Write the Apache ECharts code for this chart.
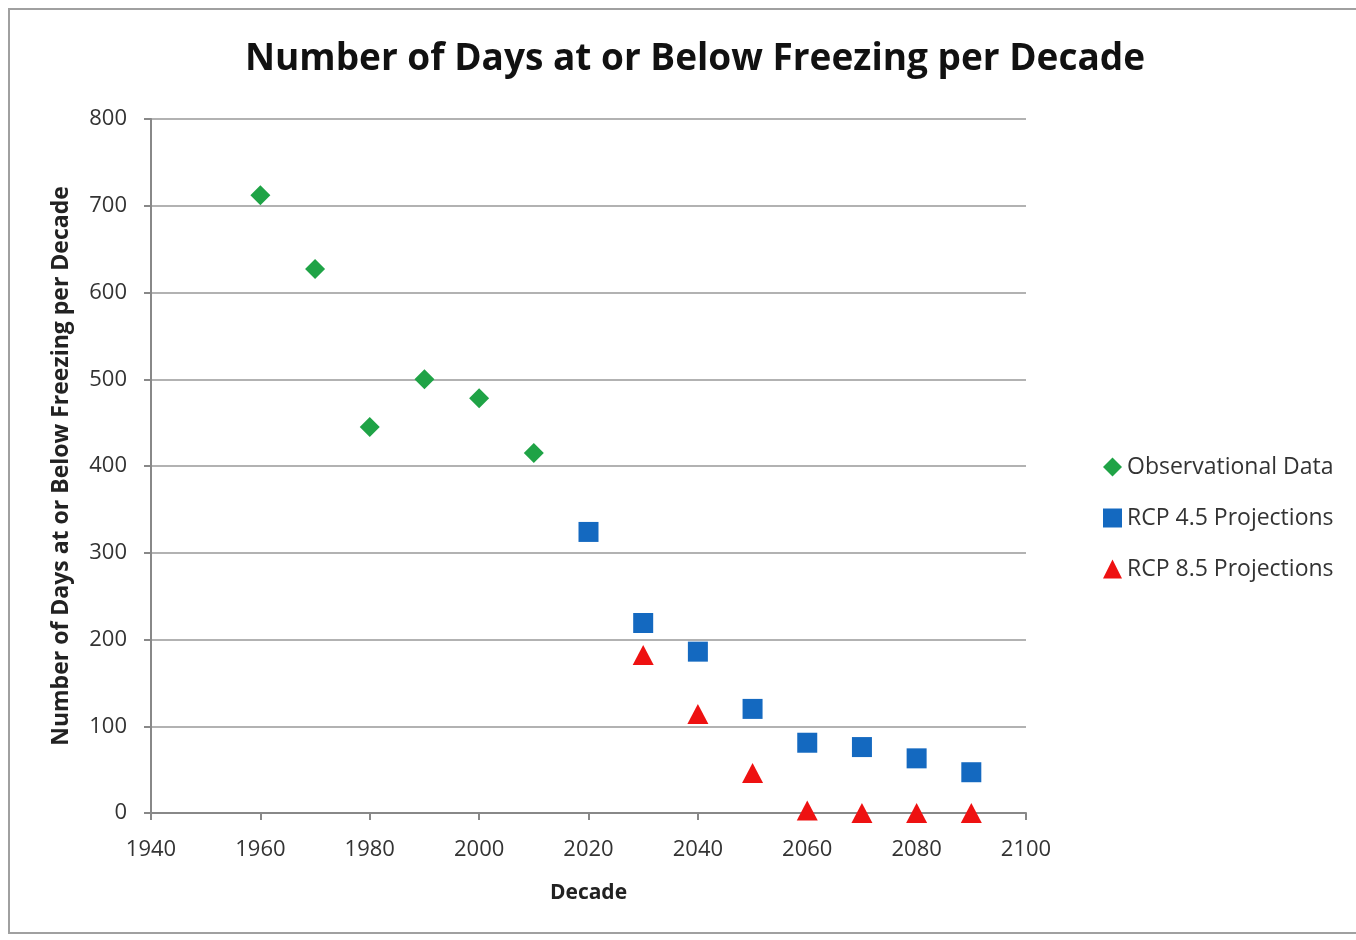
<!DOCTYPE html>
<html><head><meta charset="utf-8">
<script src="https://cdn.jsdelivr.net/npm/echarts@6/dist/echarts.min.js"></script>
<style>
html,body{margin:0;padding:0;background:#fff;}
#frame{position:absolute;left:8px;top:8px;width:1360px;height:926px;border:2px solid #a0a0a0;box-sizing:border-box;}
#c{position:absolute;left:0;top:0;width:1356px;height:940px;}
</style></head>
<body>
<div id="frame"></div>
<div id="c"></div>
<script>
const obsYears = [1960, 1970, 1980, 1990, 2000, 2010];
const obsValues = [712, 627, 445, 500, 478, 415];
const rcp45Years = [2020, 2030, 2040, 2050, 2060, 2070, 2080, 2090];
const rcp45Values = [324, 219, 186, 120, 81, 76, 63, 47];
const rcp85Years = [2030, 2040, 2050, 2060, 2070, 2080, 2090];
const rcp85Values = [182, 114, 46, 3, 0, 0, 0];
const seriesNames = ['Observational Data', 'RCP 4.5 Projections', 'RCP 8.5 Projections'];

const pair = (xs, ys) => xs.map((x, i) => [x, ys[i]]);
const font = '"Open Sans", "DejaVu Sans", sans-serif';
const chart = echarts.init(document.getElementById('c'));
chart.setOption({
  animation: false,
  title: {
    text: 'Number of Days at or Below Freezing per Decade',
    left: 690, top: 36, textAlign: 'center',
    textStyle: {fontFamily: font, fontWeight: 'bold', fontSize: 37, color: '#111'}
  },
  legend: {
    orient: 'vertical', left: 1098, top: 449, itemGap: 25,
    itemWidth: 19, itemHeight: 19, itemTextGap: 5,
    textStyle: {fontFamily: font, fontSize: 23, lineHeight: 26, color: '#333'},
    data: seriesNames
  },
  grid: {left: 151, right: 330, top: 119, bottom: 127},
  xAxis: {
    type: 'value', min: 1940, max: 2100, interval: 20,
    name: 'Decade', nameLocation: 'middle', nameGap: 70,
    nameTextStyle: {fontFamily: font, fontWeight: 'bold', fontSize: 21, color: '#222'},
    axisLine: {lineStyle: {color: '#888', width: 2}},
    axisTick: {show: true, length: 7, lineStyle: {color: '#888', width: 2}},
    axisLabel: {fontFamily: font, fontSize: 22, color: '#333', margin: 26, formatter: v => String(v)},
    splitLine: {show: false}
  },
  yAxis: {
    type: 'value', min: 0, max: 800, interval: 100,
    name: 'Number of Days at or Below Freezing per Decade', nameLocation: 'middle', nameGap: 78,
    nameTextStyle: {fontFamily: font, fontWeight: 'bold', fontSize: 23, color: '#222'},
    axisLine: {show: true, lineStyle: {color: '#888', width: 2}},
    axisTick: {show: true, length: 7, lineStyle: {color: '#888', width: 2}},
    axisLabel: {fontFamily: font, fontSize: 22, color: '#333', margin: 24},
    splitLine: {show: true, lineStyle: {color: '#999', width: 1.5}}
  },
  series: [
    {name: seriesNames[0], type: 'scatter', symbol: 'diamond', symbolSize: 20,
     itemStyle: {color: '#1fa346', opacity: 1}, data: pair(obsYears, obsValues)},
    {name: seriesNames[1], type: 'scatter', symbol: 'rect', symbolSize: 20,
     itemStyle: {color: '#1469c0', opacity: 1}, data: pair(rcp45Years, rcp45Values)},
    {name: seriesNames[2], type: 'scatter', symbol: 'triangle', symbolSize: [21, 20],
     itemStyle: {color: '#ee1111', opacity: 1}, data: pair(rcp85Years, rcp85Values)}
  ]
});
</script>
</body></html>
